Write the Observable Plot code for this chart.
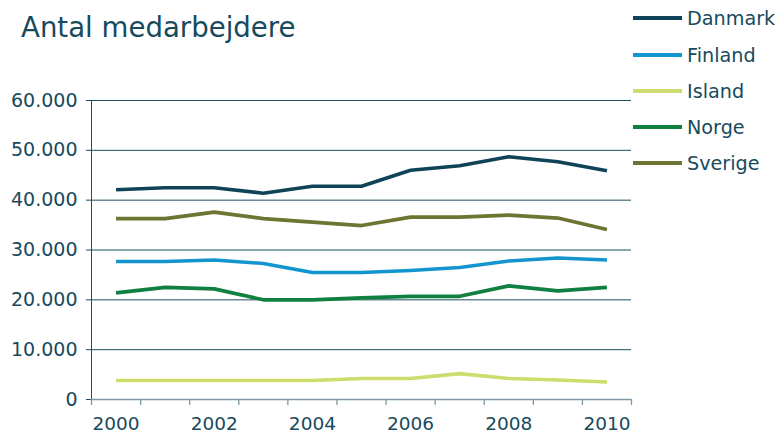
<!DOCTYPE html>
<html>
<head>
<meta charset="utf-8">
<script src="https://cdn.jsdelivr.net/npm/d3@7"></script>
<script src="https://cdn.jsdelivr.net/npm/@observablehq/plot@0.6"></script>
<style>
  html, body { margin: 0; padding: 0; background: #fff; }
  #wrap { position: relative; width: 784px; height: 434px; font-family: "DejaVu Sans", Verdana, sans-serif; color: #174a5c; }
  #title { position: absolute; left: 21px; top: 11px; font-size: 27.6px; line-height: 34px; color: #174a5c; white-space: nowrap; }
  #legend { position: absolute; left: 633px; top: 0; }
  .item { position: absolute; left: 0; height: 24px; display: flex; align-items: center; white-space: nowrap; font-size: 19.2px; }
  .sw { width: 49px; height: 4px; margin-right: 5px; }
  #chart { position: absolute; left: 0; top: 0; }
</style>
</head>
<body>
<div id="wrap">
  <div id="chart"></div>
  <div id="title">Antal medarbejdere</div>
  <div id="legend"></div>
</div>
<script>
const years = [2000, 2001, 2002, 2003, 2004, 2005, 2006, 2007, 2008, 2009, 2010];
const labelYears = [2000, 2002, 2004, 2006, 2008, 2010];
const yTicks = [0, 10000, 20000, 30000, 40000, 50000, 60000];
const countries = ["Danmark", "Finland", "Island", "Norge", "Sverige"];
const colors = ["#0e4358", "#1396d0", "#cddc6c", "#0f8040", "#6e7432"];

const danmark = [42100, 42500, 42500, 41400, 42800, 42800, 46000, 46900, 48700, 47700, 45900];
const finland = [27700, 27700, 28000, 27300, 25500, 25500, 25900, 26500, 27800, 28400, 28000];
const island  = [3800, 3800, 3800, 3800, 3800, 4200, 4200, 5200, 4200, 3900, 3500];
const norge   = [21400, 22500, 22200, 20000, 20000, 20400, 20700, 20700, 22800, 21800, 22500];
const sverige = [36300, 36300, 37600, 36300, 35600, 34900, 36600, 36600, 37000, 36400, 34100];

const seriesValues = [danmark, finland, island, norge, sverige];
const data = countries.flatMap((c, i) => years.map((y, j) => ({country: c, year: y, value: seriesValues[i][j]})));
const boundaries = [years[0] - 0.5, ...years.map(y => y + 0.5)];

const fmt = d => d3.format(",")(d).replace(/,/g, ".");

const plot = Plot.plot({
  width: 784,
  height: 434,
  marginLeft: 91,
  marginRight: 153,
  marginTop: 100,
  marginBottom: 35,
  style: {fontFamily: "'DejaVu Sans', Verdana, sans-serif", color: "#174a5c", background: "#fff"},
  x: {type: "linear", domain: [boundaries[0], boundaries[boundaries.length - 1]]},
  y: {domain: [0, 60000]},
  color: {domain: countries, range: colors},
  marks: [
    Plot.gridY(yTicks.slice(1), {stroke: "#1f4e5e", strokeOpacity: 1, strokeWidth: 1}),
    Plot.axisY(yTicks, {tickSize: 5, tickPadding: 9, tickFormat: fmt, fontSize: 19, stroke: "#1f4e5e", fill: "#174a5c", label: null}),
    Plot.frame({anchor: "left", stroke: "#1f4e5e", strokeWidth: 1}),
    Plot.axisX(boundaries, {tickSize: 6, tickFormat: () => "", stroke: "#7d98a3", strokeWidth: 1.3, label: null}),
    Plot.axisX(labelYears, {tickSize: 0, tickPadding: 17, tickFormat: d => String(d), fontSize: 18.5, fill: "#174a5c", label: null}),
    Plot.ruleY([0], {stroke: "#7d98a3", strokeWidth: 1.5}),
    Plot.line(data, {x: "year", y: "value", z: "country", stroke: "country", strokeWidth: 3.6, strokeLinejoin: "round", strokeLinecap: "butt"})
  ]
});
document.getElementById("chart").appendChild(plot);

const legend = document.getElementById("legend");
const rowCenters = [18, 55, 91, 127, 163];
countries.forEach((c, i) => {
  const it = document.createElement("div");
  it.className = "item";
  it.style.top = (rowCenters[i] - 12) + "px";
  const sw = document.createElement("div");
  sw.className = "sw";
  sw.style.background = colors[i];
  const t = document.createElement("span");
  t.textContent = c;
  it.appendChild(sw);
  it.appendChild(t);
  legend.appendChild(it);
});
</script>
</body>
</html>
